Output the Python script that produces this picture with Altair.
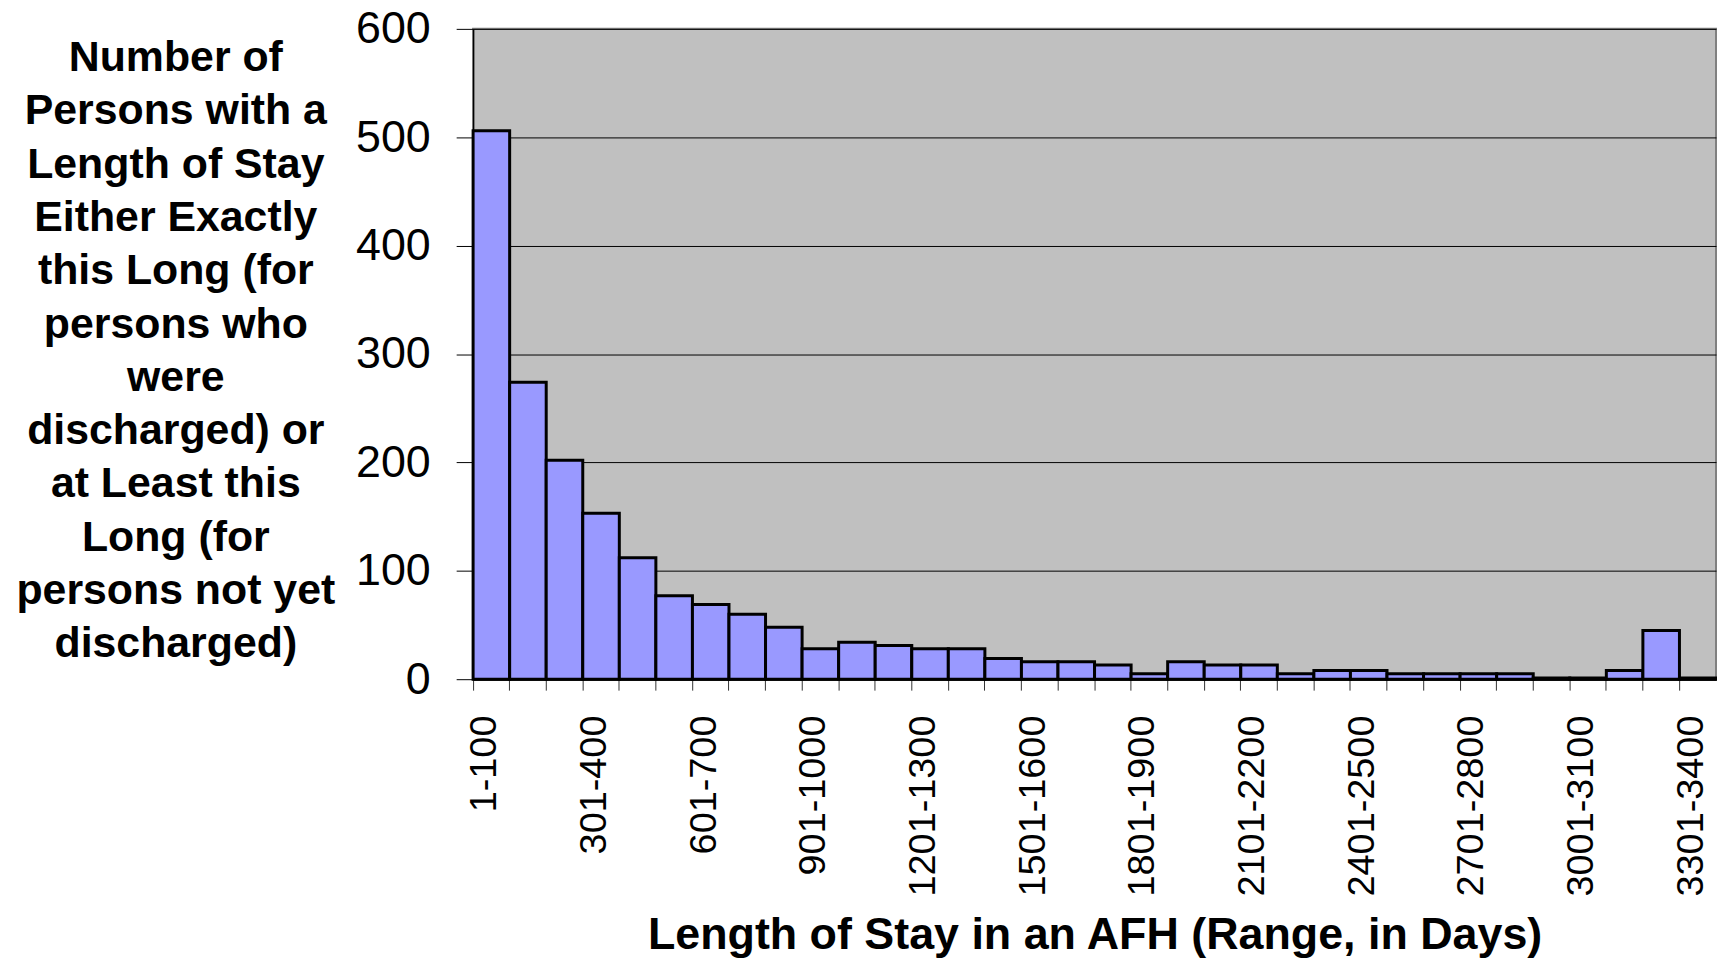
import altair as alt
import pandas as pd

categories = [
    "1-100", "101-200", "201-300", "301-400", "401-500", "501-600", "601-700",
    "701-800", "801-900", "901-1000", "1001-1100", "1101-1200", "1201-1300",
    "1301-1400", "1401-1500", "1501-1600", "1601-1700", "1701-1800", "1801-1900",
    "1901-2000", "2001-2100", "2101-2200", "2201-2300", "2301-2400", "2401-2500",
    "2501-2600", "2601-2700", "2701-2800", "2801-2900", "2901-3000", "3001-3100",
    "3101-3200", "3201-3300", "3301-3400",
]
counts = [
    506, 274, 202, 153, 112, 77, 69, 60, 48, 28, 34, 31, 28, 28, 19, 16, 16, 13,
    5, 16, 13, 13, 5, 8, 8, 5, 5, 5, 5, 1, 1, 8, 45, 1,
]
y_ticks = [0, 100, 200, 300, 400, 500, 600]

y_title = [
    "Number of", "Persons with a", "Length of Stay", "Either Exactly",
    "this Long (for", "persons who", "were", "discharged) or",
    "at Least this", "Long (for", "persons not yet", "discharged)",
]
x_title = "Length of Stay in an AFH (Range, in Days)"

df = pd.DataFrame({"range": categories, "count": counts})

W = 1248
H = 653
cat_js = "[" + ",".join("'" + c + "'" for c in categories) + "]"
FONT = "Liberation Sans"

chart = alt.Chart(df).mark_bar(
    fill="#9999FF", stroke="#000000", strokeWidth=3
).encode(
    x=alt.X(
        "range:N",
        sort=categories,
        scale=alt.Scale(paddingInner=0, paddingOuter=0),
        axis=alt.Axis(
            title=x_title,
            bandPosition=0,
            labelAngle=-90,
            labelAlign="right",
            labelBaseline="middle",
            labelOffset=-6,
            labelLimit=0,
            labelExpr="indexof(" + cat_js + ", datum.value) % 3 == 0 ? datum.label : ''",
            labelFont=FONT,
            labelFontSize=38,
            labelColor="#000",
            labelPadding=25,
            labelOverlap=False,
            tickSize=11,
            tickColor="#333",
            tickWidth=1,
            domainColor="#000",
            domainWidth=2,
            titleFont=FONT,
            titleFontSize=45,
            titleFontWeight="bold",
            titleColor="#000",
            titleBaseline="alphabetic",
            titleY=270,
            grid=False,
        ),
    ),
    y=alt.Y(
        "count:Q",
        scale=alt.Scale(domain=[0, 600], nice=False),
        axis=alt.Axis(
            title=y_title,
            values=y_ticks,
            labelFont=FONT,
            labelFontSize=45,
            labelColor="#000",
            labelPadding=26,
            tickSize=17,
            tickColor="#000",
            domainColor="#000",
            domainWidth=1.5,
            gridColor="#000",
            gridWidth=1,
            titleAngle=0,
            titleAlign="center",
            titleBaseline="top",
            titleX=-299,
            titleY=8,
            titleFont=FONT,
            titleFontSize=43,
            titleFontWeight="bold",
            titleColor="#000",
            titleLineHeight=53.5,
        ),
    ),
).properties(
    width=W,
    height=H,
    autosize=alt.AutoSizeParams(type="none"),
    padding={"left": 467, "top": 19, "right": 1, "bottom": 280},
    background="#FFFFFF",
).configure_view(
    fill="#C0C0C0", stroke="#808080", strokeWidth=2
)

chart.save("out.html", embed_options={"renderer": "svg", "actions": False})
